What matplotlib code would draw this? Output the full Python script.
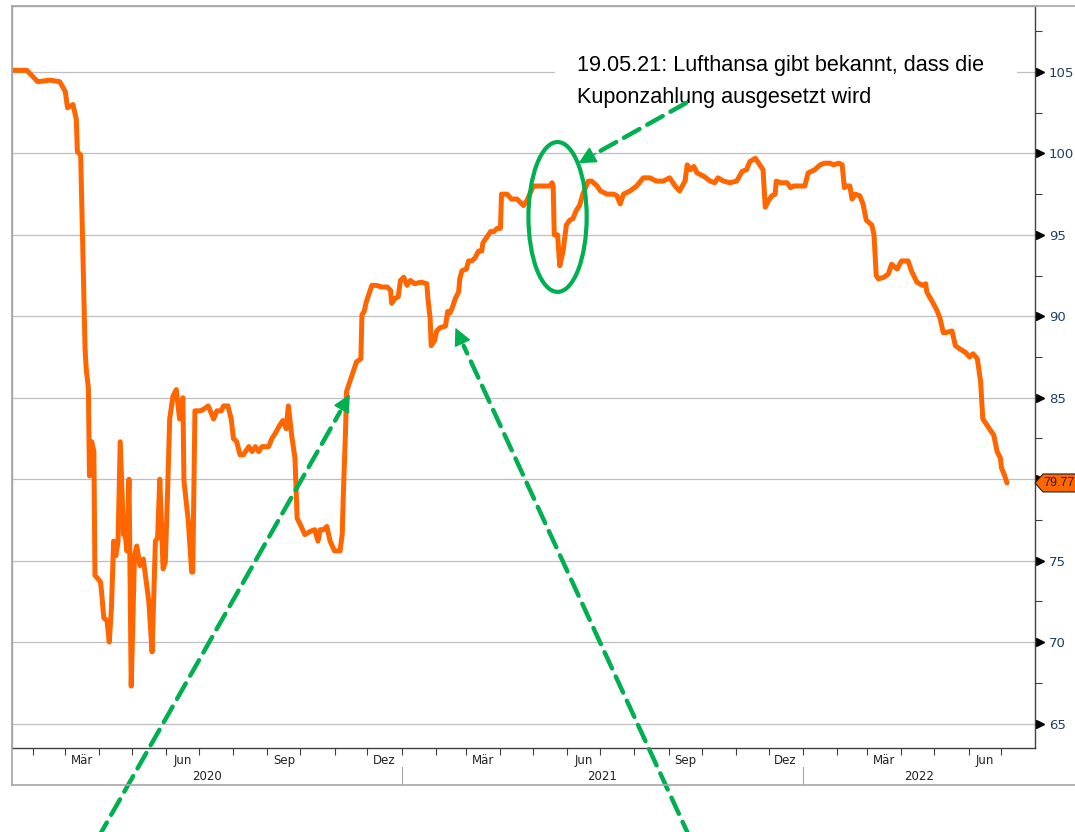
import matplotlib
matplotlib.use("Agg")
import matplotlib.pyplot as plt
import matplotlib.dates as mdates
import matplotlib.transforms as mtransforms
from matplotlib.patches import Ellipse, Rectangle, Polygon
from matplotlib.lines import Line2D
from matplotlib.ticker import FixedLocator, MultipleLocator, FuncFormatter, NullFormatter
import numpy as np
import pandas as pd

# ----------------------------------------------------------------------
# Data: Lufthansa bond price
# ----------------------------------------------------------------------
dates_2020 = [
    "2020-01-13", "2020-01-26", "2020-02-05", "2020-02-16", "2020-02-25",
    "2020-03-01", "2020-03-03", "2020-03-08", "2020-03-11", "2020-03-12",
    "2020-03-15", "2020-03-19", "2020-03-20", "2020-03-22", "2020-03-23",
    "2020-03-25", "2020-03-27", "2020-03-28", "2020-04-02", "2020-04-03",
    "2020-04-05", "2020-04-08", "2020-04-10", "2020-04-12", "2020-04-14",
    "2020-04-16", "2020-04-18", "2020-04-20", "2020-04-23", "2020-04-24",
    "2020-04-26", "2020-04-28", "2020-04-30", "2020-05-03", "2020-05-05",
    "2020-05-08", "2020-05-11", "2020-05-16", "2020-05-19", "2020-05-22",
    "2020-05-24", "2020-05-26", "2020-05-29", "2020-05-31", "2020-06-02",
    "2020-06-04", "2020-06-07", "2020-06-10", "2020-06-13", "2020-06-16",
    "2020-06-17", "2020-06-21", "2020-06-24", "2020-06-25", "2020-06-27",
    "2020-07-02", "2020-07-05", "2020-07-09", "2020-07-14", "2020-07-17",
    "2020-07-21", "2020-07-23", "2020-07-27", "2020-07-30", "2020-08-01",
    "2020-08-04", "2020-08-07", "2020-08-10", "2020-08-15", "2020-08-18",
    "2020-08-21", "2020-08-24", "2020-08-27", "2020-09-02", "2020-09-05",
    "2020-09-08", "2020-09-12", "2020-09-15", "2020-09-18", "2020-09-20",
    "2020-09-23", "2020-09-26", "2020-09-28", "2020-10-01", "2020-10-05",
    "2020-10-10", "2020-10-14", "2020-10-17", "2020-10-19", "2020-10-22",
    "2020-10-25", "2020-10-28", "2020-11-01", "2020-11-06", "2020-11-08",
    "2020-11-09", "2020-11-11", "2020-11-12", "2020-11-15", "2020-11-18",
    "2020-11-21", "2020-11-25", "2020-11-26", "2020-11-28", "2020-11-30",
    "2020-12-02", "2020-12-05", "2020-12-09", "2020-12-14", "2020-12-19",
    "2020-12-22", "2020-12-23", "2020-12-26", "2020-12-29", "2020-12-31",
]
prices_2020 = [
    105.1, 105.1, 104.4, 104.5, 104.4,
    103.8, 102.8, 103.0, 102.1, 100.1,
    99.9, 88.0, 86.8, 85.6, 80.2,
    82.3, 81.7, 74.1, 73.7, 73.1,
    71.5, 71.3, 70.0, 72.1, 76.2,
    75.3, 76.2, 82.3, 76.6, 77.0,
    75.6, 80.0, 67.3, 75.3, 75.9,
    74.7, 75.1, 72.5, 69.4, 76.2,
    76.4, 80.0, 74.5, 74.9, 79.0,
    83.7, 85.1, 85.5, 83.7, 85.0,
    79.9, 77.4, 74.3, 74.3, 84.2,
    84.2, 84.3, 84.5, 83.7, 84.2,
    84.2, 84.5, 84.5, 83.7, 82.5,
    82.3, 81.5, 81.5, 82.0, 81.7,
    82.0, 81.7, 82.0, 82.0, 82.5,
    82.8, 83.3, 83.6, 83.1, 84.5,
    82.7, 81.3, 77.6, 77.2, 76.6,
    76.8, 76.9, 76.2, 76.9, 76.9,
    77.1, 76.2, 75.6, 75.6, 76.6,
    79.0, 82.9, 85.4, 86.0, 86.6,
    87.2, 87.4, 90.1, 90.3, 90.9,
    91.3, 91.9, 91.9, 91.8, 91.8,
    91.6, 90.8, 91.1, 91.2, 92.2,
]

dates_2021 = [
    "2021-01-03", "2021-01-06", "2021-01-09", "2021-01-13", "2021-01-19",
    "2021-01-24", "2021-01-25", "2021-01-27", "2021-01-28", "2021-01-31",
    "2021-02-02", "2021-02-05", "2021-02-10", "2021-02-12", "2021-02-14",
    "2021-02-16", "2021-02-19", "2021-02-22", "2021-02-23", "2021-02-25",
    "2021-03-01", "2021-03-03", "2021-03-06", "2021-03-09", "2021-03-12",
    "2021-03-15", "2021-03-16", "2021-03-20", "2021-03-23", "2021-03-26",
    "2021-03-29", "2021-04-01", "2021-04-02", "2021-04-07", "2021-04-11",
    "2021-04-16", "2021-04-22", "2021-04-25", "2021-05-01", "2021-05-16",
    "2021-05-18", "2021-05-19", "2021-05-20", "2021-05-23", "2021-05-25",
    "2021-05-28", "2021-05-31", "2021-06-03", "2021-06-06", "2021-06-09",
    "2021-06-12", "2021-06-15", "2021-06-20", "2021-06-23", "2021-06-28",
    "2021-07-01", "2021-07-07", "2021-07-13", "2021-07-16", "2021-07-19",
    "2021-07-22", "2021-07-28", "2021-08-03", "2021-08-09", "2021-08-15",
    "2021-08-21", "2021-08-27", "2021-09-02", "2021-09-07", "2021-09-11",
    "2021-09-16", "2021-09-18", "2021-09-21", "2021-09-24", "2021-09-27",
    "2021-10-03", "2021-10-09", "2021-10-13", "2021-10-16", "2021-10-21",
    "2021-10-27", "2021-11-02", "2021-11-07", "2021-11-11", "2021-11-14",
    "2021-11-19", "2021-11-22", "2021-11-26", "2021-11-28", "2021-12-01",
    "2021-12-04", "2021-12-07", "2021-12-08", "2021-12-12", "2021-12-18",
    "2021-12-21", "2021-12-24", "2021-12-28",
]
prices_2021 = [
    92.4, 91.9, 92.2, 92.0, 92.1,
    92.0, 91.1, 89.9, 88.2, 88.5,
    89.1, 89.3, 89.4, 90.3, 90.2,
    90.5, 91.1, 91.5, 92.3, 92.8,
    92.9, 93.4, 93.4, 93.6, 94.0,
    94.0, 94.5, 94.9, 95.2, 95.2,
    95.4, 95.4, 97.5, 97.5, 97.2,
    97.2, 96.8, 97.1, 98.0, 98.0,
    98.2, 98.0, 95.0, 95.0, 93.1,
    94.0, 95.6, 95.9, 96.0, 96.5,
    96.8, 97.5, 98.3, 98.3, 98.0,
    97.7, 97.5, 97.5, 97.4, 96.9,
    97.5, 97.7, 98.0, 98.5, 98.5,
    98.3, 98.3, 98.5, 98.0, 97.7,
    98.3, 99.3, 99.0, 99.2, 98.8,
    98.6, 98.3, 98.2, 98.5, 98.3,
    98.2, 98.3, 98.9, 99.0, 99.5,
    99.7, 99.4, 99.0, 96.7, 97.1,
    97.4, 97.5, 98.3, 98.2, 98.2,
    97.9, 98.0, 98.0,
]

dates_2022 = [
    "2022-01-03", "2022-01-06", "2022-01-12", "2022-01-17", "2022-01-21",
    "2022-01-26", "2022-01-29", "2022-02-03", "2022-02-06", "2022-02-08",
    "2022-02-10", "2022-02-13", "2022-02-15", "2022-02-18", "2022-02-22",
    "2022-02-25", "2022-02-27", "2022-02-28", "2022-03-05", "2022-03-07",
    "2022-03-09", "2022-03-11", "2022-03-16", "2022-03-20", "2022-03-23",
    "2022-03-28", "2022-04-01", "2022-04-07", "2022-04-10", "2022-04-15",
    "2022-04-20", "2022-04-23", "2022-04-24", "2022-04-29", "2022-05-03",
    "2022-05-06", "2022-05-09", "2022-05-11", "2022-05-17", "2022-05-20",
    "2022-05-24", "2022-05-29", "2022-06-02", "2022-06-05", "2022-06-09",
    "2022-06-12", "2022-06-14", "2022-06-18", "2022-06-21", "2022-06-24",
    "2022-06-27", "2022-06-30", "2022-07-01", "2022-07-04", "2022-07-06",
]
prices_2022 = [
    98.0, 98.8, 99.0, 99.3, 99.4,
    99.4, 99.3, 99.4, 99.3, 97.9,
    98.0, 98.0, 97.2, 97.5, 97.4,
    96.9, 96.2, 95.9, 95.6, 95.0,
    92.5, 92.3, 92.4, 92.6, 93.2,
    92.9, 93.4, 93.4, 92.8, 92.1,
    91.9, 92.0, 91.5, 90.9, 90.4,
    89.9, 89.0, 89.0, 89.1, 88.2,
    88.0, 87.8, 87.5, 87.7, 87.4,
    86.0, 83.7, 83.3, 83.0, 82.7,
    81.7, 81.3, 80.7, 80.2, 79.77,
]

y_ticks = [65, 70, 75, 80, 85, 90, 95, 100, 105]
month_names = {3: "Mär", 6: "Jun", 9: "Sep", 12: "Dez"}
years = [2020, 2021, 2022]

note_lines = ["19.05.21: Lufthansa gibt bekannt, dass die",
              "Kuponzahlung ausgesetzt wird"]
event_date, event_value = "2021-05-23", 96.1

# ----------------------------------------------------------------------
# Styling
# ----------------------------------------------------------------------
ORANGE = "#FF6600"
GREEN = "#00B050"
GRID = "#BFBFBF"
FRAME = "#A6A6A6"
DARK = "#404040"
LABEL_BLUE = "#1F3F66"
W, H = 1075, 832

plt.rcParams["font.family"] = ["DejaVu Sans"]

dates = pd.to_datetime(dates_2020 + dates_2021 + dates_2022)
prices = np.array(prices_2020 + prices_2021 + prices_2022)
last_val = prices[-1]

fig = plt.figure(figsize=(W / 100, H / 100), dpi=100)
ax_l, ax_r, ax_t, ax_b = 12, 1035, 6, 748
ax = fig.add_axes([ax_l / W, 1 - ax_b / H, (ax_r - ax_l) / W, (ax_b - ax_t) / H])

ax.plot(dates, prices, color=ORANGE, lw=3.6, solid_joinstyle="round",
        solid_capstyle="round", zorder=4)

ax.set_xlim(mdates.date2num(pd.Timestamp("2020-01-12 12:00")),
            mdates.date2num(pd.Timestamp("2022-07-31 12:00")))
ax.set_ylim(63.5, 109.05)

# y axis on the right (the label nearest the last value is replaced by the tag)
ax.yaxis.tick_right()
ax.yaxis.set_major_locator(FixedLocator(y_ticks))
ax.yaxis.set_major_formatter(FuncFormatter(
    lambda v, pos: "" if abs(v - last_val) < 1.5 else f"{v:g}"))
ax.yaxis.set_minor_locator(MultipleLocator(2.5))
ax.tick_params(axis="y", which="major", length=0, pad=10, labelsize=9.5,
               labelcolor=LABEL_BLUE)
ax.tick_params(axis="y", which="minor", length=5, width=0.8, color=DARK,
               direction="out")
ax.set_axisbelow(True)
ax.yaxis.grid(True, color=GRID, lw=0.9)

# triangle markers for major y ticks
ytrans = mtransforms.blended_transform_factory(ax.transAxes, ax.transData)
ax.plot([1 + 4.5 / (ax_r - ax_l)] * len(y_ticks), y_ticks, ls="none",
        marker=">", ms=6, color="black", transform=ytrans, clip_on=False)

# x axis: month ticks, labels mid-month for Mar/Jun/Sep/Dec
ax.xaxis.set_major_locator(mdates.MonthLocator())
ax.xaxis.set_major_formatter(NullFormatter())
ax.xaxis.set_minor_locator(mdates.MonthLocator(bymonth=[3, 6, 9, 12], bymonthday=16))
ax.xaxis.set_minor_formatter(FuncFormatter(
    lambda v, pos: month_names.get(mdates.num2date(v).month, "")))
ax.tick_params(axis="x", which="major", length=5, width=0.8, color=DARK,
               direction="out")
ax.tick_params(axis="x", which="minor", length=0, pad=4, labelsize=8.5,
               labelcolor="#222222")

for side in ["left", "top"]:
    ax.spines[side].set_color(FRAME)
    ax.spines[side].set_linewidth(1.0)
for side in ["right", "bottom"]:
    ax.spines[side].set_color(DARK)
    ax.spines[side].set_linewidth(1.0)

# year row
xtrans = mtransforms.blended_transform_factory(ax.transData, ax.transAxes)
x0, x1 = ax.get_xlim()
y_year = (ax_b - 777) / (ax_b - ax_t)
for yr in years:
    a = max(mdates.date2num(pd.Timestamp(f"{yr}-01-01")), x0)
    b = min(mdates.date2num(pd.Timestamp(f"{yr + 1}-01-01")), x1)
    ax.text((a + b) / 2, y_year, str(yr), transform=xtrans, ha="center",
            va="center", fontsize=8.5, color="#222222")
    if yr > years[0]:
        ax.add_line(Line2D([a, a], [(ax_b - 767) / (ax_b - ax_t), (ax_b - 785) / (ax_b - ax_t)],
                           transform=xtrans, color=FRAME, lw=0.8, clip_on=False))

# outer frame
for xs, ys in [([ax_l, W], [ax_t, ax_t]), ([ax_l, W], [785, 785]), ([ax_l, ax_l], [ax_t, 785])]:
    fig.add_artist(Line2D([x / W for x in xs], [1 - y / H for y in ys],
                          transform=fig.transFigure, color=FRAME, lw=1.2))

# last value tag on the right axis
yd = ax.transData.transform((0, last_val))[1]
xs = ax.transAxes.transform((1, 0))[0]
tag = Polygon([(xs, yd), (xs + 8, yd + 9), (xs + 50, yd + 9), (xs + 50, yd - 9), (xs + 8, yd - 9)],
              closed=True, fc=ORANGE, ec="#222222", lw=0.8,
              transform=mtransforms.IdentityTransform())
fig.add_artist(tag)
fig.text((xs + 8) / W, yd / H, f"{last_val:.2f}", ha="left", va="center",
         fontsize=9, color="#222222", family=["Liberation Sans"])

# annotation text with white box (hides part of the 105 grid line)
ax.add_patch(Rectangle(((555 - ax_l) / (ax_r - ax_l), (ax_b - 112) / (ax_b - ax_t)),
                       (1017 - 555) / (ax_r - ax_l), 72 / (ax_b - ax_t),
                       transform=ax.transAxes, fc="white", ec="none", zorder=2))
for line, base in zip(note_lines, [71, 103]):
    ax.text((577 - ax_l) / (ax_r - ax_l), (ax_b - base) / (ax_b - ax_t), line,
            transform=ax.transAxes, ha="left", va="baseline", fontsize=15.6,
            color="black", family=["Liberation Sans"], zorder=5)

# green ellipse around the drop
ax.add_patch(Ellipse((mdates.date2num(pd.Timestamp(event_date)), event_value),
                     width=53, height=9.2, fc="none", ec=GREEN, lw=3, zorder=6))


def dashed_arrow(tip, tail_px):
    """Dashed green line with a solid head; tip in data, tail in image pixels."""
    tx, ty = ax.transData.transform((mdates.date2num(pd.Timestamp(tip[0])), tip[1]))
    sx, sy = tail_px[0], H - tail_px[1]
    d = np.array([tx - sx, ty - sy])
    u = d / np.hypot(*d)
    hx, hy = tx - u[0] * 20, ty - u[1] * 20
    ax.annotate("", xy=(hx, hy), xycoords="figure pixels", xytext=(sx, sy),
                textcoords="figure pixels", annotation_clip=False,
                arrowprops=dict(arrowstyle="-", color=GREEN, lw=3.2,
                                linestyle=(0, (4, 2)), shrinkA=0, shrinkB=0),
                zorder=7)
    ax.annotate("", xy=(tx, ty), xycoords="figure pixels", xytext=(hx, hy),
                textcoords="figure pixels", annotation_clip=False,
                arrowprops=dict(arrowstyle="-|>,head_length=1.1,head_width=0.55",
                                color=GREEN, lw=1, shrinkA=0, shrinkB=0),
                zorder=7)


dashed_arrow(("2020-11-15", 85.2), (98, 838))
dashed_arrow(("2021-02-19", 89.3), (690, 838))
dashed_arrow(("2021-06-11", 99.4), (686, 103))

fig.savefig("out.png", dpi=100)
